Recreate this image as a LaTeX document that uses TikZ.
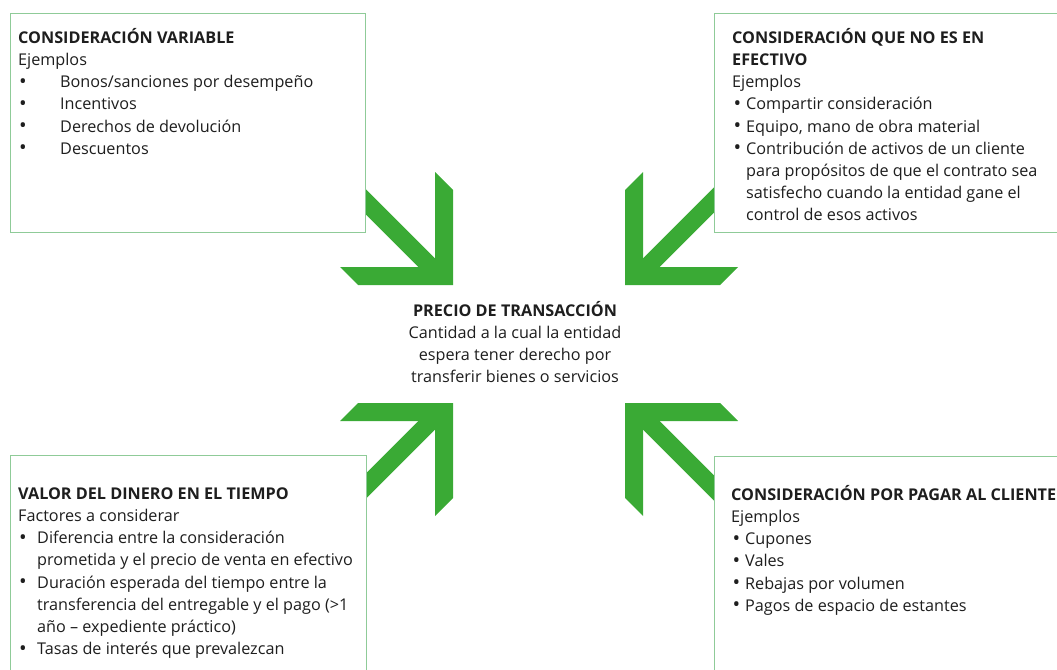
\documentclass[tikz,border=0pt]{standalone}
\usepackage{graphicx}
\usepackage{fontspec}
\setmainfont{Open Sans}
\definecolor{arrowgreen}{HTML}{3AAA35}
\definecolor{boxgreen}{HTML}{8FCB98}
\definecolor{ink}{HTML}{1E1E1E}
\newcommand\bigbul{\raisebox{-0.6pt}{\scalebox{1.25}{•}}}
\newcommand\bulwide{\makebox[42pt][l]{\hspace{1pt}\bigbul}}
\newcommand\bulmid{\makebox[19pt][l]{\hspace{1pt}\bigbul}}
\newcommand\bulnar{\makebox[14pt][l]{\hspace{1.5pt}\bigbul}}
\newcommand\topstrut{\rule{0pt}{16pt}}
\tikzset{
  x=1pt, y=-1pt,
  box/.style={draw=boxgreen, line width=1.1pt, fill=white, anchor=north west, inner sep=0pt},
  txt/.style={inner sep=0pt, align=left, anchor=north west, text=ink,
    font=\fontsize{16.2}{22.2}\selectfont},
  pics/convarrow/.style={code={
    \fill[arrowgreen] (0,0) -- (0,-95) -- (-18,-113) -- (-18,-18) -- (-113,-18) -- (-95,0) -- cycle;
    \fill[arrowgreen] (-7.64,-16.36) -- (-20.36,-3.64) -- (-123.36,-106.64) -- (-110.64,-119.36) -- cycle;
  }}
}
\begin{document}
\begin{tikzpicture}
\useasboundingbox (0,0) rectangle (1057,669);
\clip (0,0) rectangle (1057,669);
% arrows
\pic at (453,285) {convarrow};
\pic[xscale=-1] at (625,285) {convarrow};
\pic[yscale=-1] at (453,403) {convarrow};
\pic[xscale=-1,yscale=-1] at (625,403) {convarrow};
% boxes
\node[box, minimum width=355pt, minimum height=219pt] (tlbox) at (10,13) {};
\node[box, minimum width=360pt, minimum height=219pt] (trbox) at (714,13) {};
\node[box, minimum width=356pt, minimum height=230pt] (blbox) at (10,455) {};
\node[box, minimum width=360pt, minimum height=230pt] (brbox) at (714,456) {};
% texts (top = first baseline - 16)
\node[txt] (tltext) at (18,27) {\topstrut\textbf{CONSIDERACIÓN VARIABLE}\\
Ejemplos\\
\bulwide Bonos/sanciones por desempeño\\
\bulwide Incentivos\\
\bulwide Derechos de devolución\\
\bulwide Descuentos};
\node[txt] (trtext) at (732,27) {\topstrut\textbf{CONSIDERACIÓN QUE NO ES EN}\\
\textbf{EFECTIVO}\\
Ejemplos\\
\bulnar Compartir consideración\\
\bulnar Equipo, mano de obra material\\
\bulnar Contribución de activos de un cliente\\
\hspace*{14pt}para propósitos de que el contrato sea\\
\hspace*{14pt}satisfecho cuando la entidad gane el\\
\hspace*{14pt}control de esos activos};
\node[txt] (bltext) at (18,483) {\topstrut\textbf{VALOR DEL DINERO EN EL TIEMPO}\\
Factores a considerar\\
\bulmid Diferencia entre la consideración\\
\hspace*{19pt}prometida y el precio de venta en efectivo\\
\bulmid Duración esperada del tiempo entre la\\
\hspace*{19pt}transferencia del entregable y el pago (>1\\
\hspace*{19pt}año – expediente práctico)\\
\bulmid Tasas de interés que prevalezcan};
\node[txt] (brtext) at (731,484) {\topstrut\textbf{CONSIDERACIÓN POR PAGAR AL CLIENTE}\\
Ejemplos\\
\bulnar Cupones\\
\bulnar Vales\\
\bulnar Rebajas por volumen\\
\bulnar Pagos de espacio de estantes};
\node[txt, align=center, anchor=north] (price) at (515,300) {\topstrut\textbf{PRECIO DE TRANSACCIÓN}\\
Cantidad a la cual la entidad\\
espera tener derecho por\\
transferir bienes o servicios};
\end{tikzpicture}
\end{document}
